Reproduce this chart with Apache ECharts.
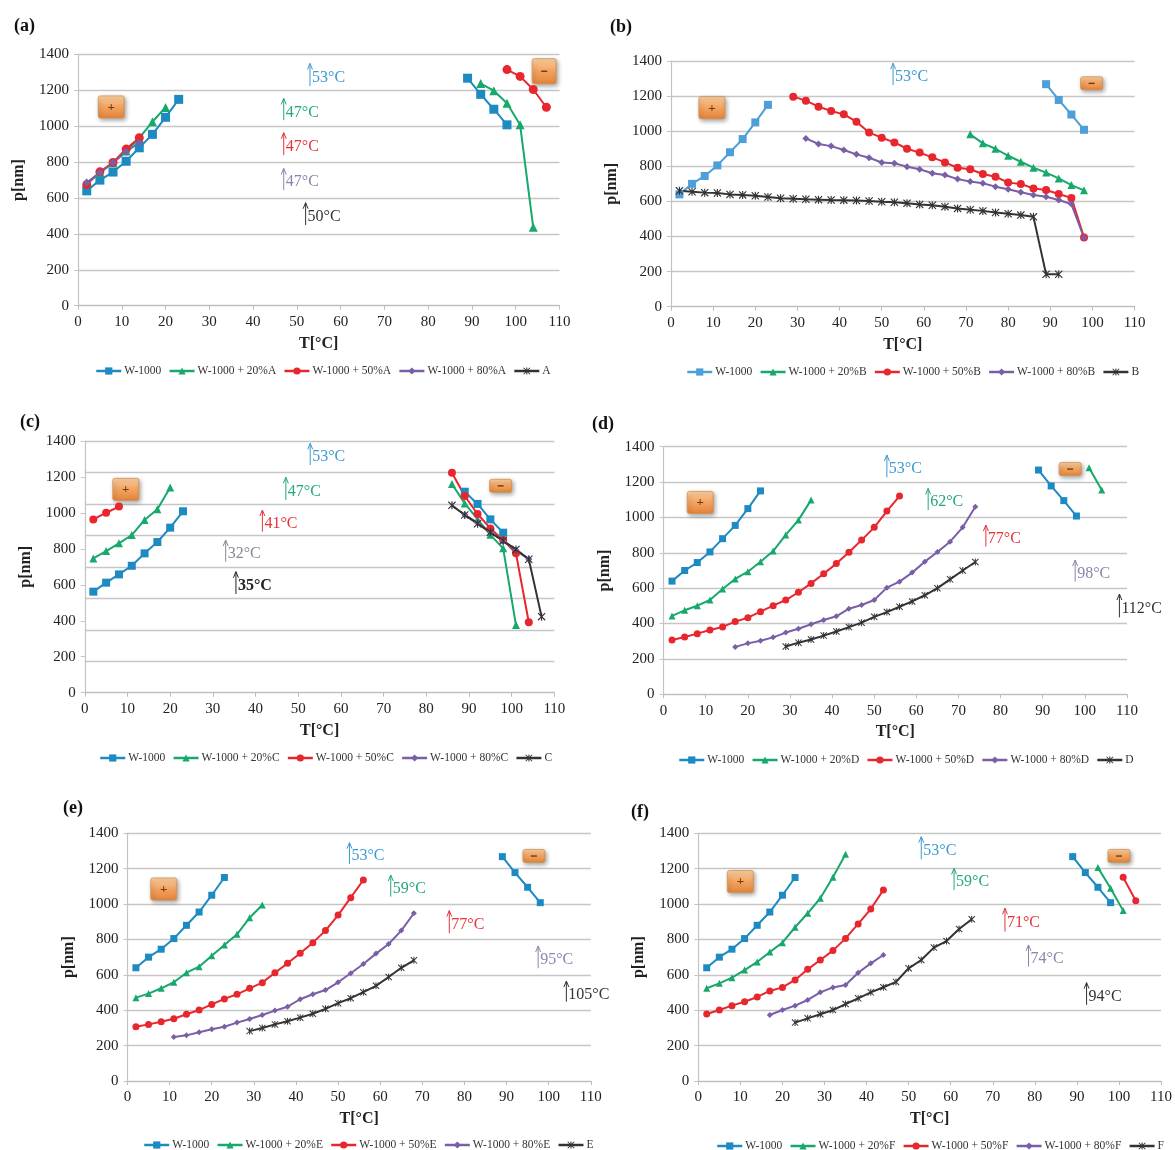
<!DOCTYPE html>
<html>
<head>
<meta charset="utf-8">
<script src="https://cdn.jsdelivr.net/npm/echarts@6/dist/echarts.min.js"></script>
<style>
  html, body { margin: 0; padding: 0; background: #fff; }
  #chart { width: 1175px; height: 1150px; }
</style>
</head>
<body>
<div id="chart"></div>
<script>
// Pore size p [nm] versus temperature T [°C]; each panel compares W-1000 with its blends.
// Heating branches and cooling branches are kept apart so they draw as separate segments.

const xTicks = [0, 110, 10];          // min, max, step of the T axis
const yTicks = [0, 1400, 200];        // min, max, step of the p axis
const panelLetters = ['A', 'B', 'C', 'D', 'E', 'F'];
const panelTitles = ['(a)', '(b)', '(c)', '(d)', '(e)', '(f)'];

// W-1000 reference (panels a, b, d, e, f)
const w1000Heat = [[2,640],[5,700],[8,745],[11,805],[14,880],[17,955],[20,1050],[23,1150]];
const w1000Cool = [[89,1268],[92,1178],[95,1095],[98,1008]];

// (a)
const a20Heat = [[2,680],[5,742],[8,797],[11,862],[14,935],[17,1025],[20,1105]];
const a20Cool = [[92,1238],[95,1198],[98,1128],[101,1008],[104,437]];
const a50Heat = [[2,675],[5,746],[8,798],[11,873],[14,936]];
const a50Cool = [[98,1316],[101,1278],[104,1205],[107,1106]];
const a80Heat = [[2,686],[5,741],[8,797],[11,858],[14,910]];
const aPure = [];

// (b)
const b20Cool = [[71,982],[74,931],[77,900],[80,860],[83,826],[86,792],[89,764],[92,731],[95,693],[98,663]];
const b50Cool = [[29,1197],[32,1174],[35,1140],[38,1115],[41,1096],[44,1054],[47,992],[50,963],[53,936],[56,900],[59,878],[62,851],[65,822],[68,792],[71,783],[74,756],[77,741],[80,707],[83,699],[86,674],[89,665],[92,642],[95,620],[98,395]];
const b80Cool = [[32,959],[35,927],[38,915],[41,893],[44,868],[47,849],[50,822],[53,817],[56,798],[59,783],[62,760],[65,750],[68,727],[71,714],[74,703],[77,684],[80,669],[83,652],[86,636],[89,627],[92,608],[95,585],[98,393]];
const bPure = [[2,660],[5,655],[8,650],[11,648],[14,640],[17,637],[20,632],[23,625],[26,618],[29,615],[32,612],[35,610],[38,608],[41,607],[44,605],[47,602],[50,598],[53,595],[56,590],[59,583],[62,578],[65,570],[68,560],[71,552],[74,546],[77,537],[80,530],[83,522],[86,512],[89,185],[92,185]];

// (c)
const cW1000Heat = [[2,562],[5,612],[8,658],[11,706],[14,775],[17,838],[20,918],[23,1009]];
const cW1000Cool = [[89,1118],[92,1050],[95,964],[98,890]];
const c20Heat = [[2,747],[5,788],[8,831],[11,877],[14,961],[17,1020],[20,1142]];
const c20Cool = [[86,1161],[89,1053],[92,965],[95,878],[98,803],[101,376]];
const c50Heat = [[2,964],[5,1001],[8,1035]];
const c50Cool = [[86,1223],[89,1094],[92,994],[95,914],[98,849],[101,775],[104,392]];
const c80Cool = [[89,990],[92,945],[95,893],[98,843],[101,792],[104,742]];
const cPure = [[86,1042],[89,988],[92,940],[95,892],[98,845],[101,797],[104,742],[107,423]];

// (d)
const d20Heat = [[2,443],[5,475],[8,501],[11,533],[14,595],[17,652],[20,693],[23,750],[26,810],[29,901],[32,985],[35,1098]];
const d20Cool = [[101,1281],[104,1155]];
const d50Heat = [[2,307],[5,324],[8,343],[11,364],[14,381],[17,411],[20,433],[23,467],[26,501],[29,533],[32,577],[35,627],[38,682],[41,739],[44,803],[47,872],[50,944],[53,1036],[56,1121]];
const d80Heat = [[17,268],[20,288],[23,303],[26,322],[29,349],[32,371],[35,396],[38,420],[41,441],[44,484],[47,505],[50,533],[53,603],[56,637],[59,688],[62,750],[65,805],[68,863],[71,944],[74,1061]];
const dPure = [[29,270],[32,292],[35,310],[38,332],[41,355],[44,380],[47,405],[50,438],[53,465],[56,495],[59,525],[62,560],[65,600],[68,650],[71,700],[74,748]];

// (e)
const e20Heat = [[2,471],[5,494],[8,524],[11,558],[14,612],[17,646],[20,708],[23,769],[26,829],[29,923],[32,995]];
const e50Heat = [[2,307],[5,320],[8,335],[11,352],[14,377],[17,401],[20,433],[23,464],[26,490],[29,524],[32,556],[35,612],[38,665],[41,722],[44,782],[47,850],[50,938],[53,1036],[56,1136]];
const e80Heat = [[11,249],[14,258],[17,275],[20,292],[23,307],[26,330],[29,350],[32,373],[35,398],[38,420],[41,462],[44,490],[47,514],[50,558],[53,609],[56,661],[59,720],[62,774],[65,850],[68,948]];
const ePure = [[29,282],[32,300],[35,320],[38,338],[41,358],[44,380],[47,408],[50,440],[53,468],[56,502],[59,538],[62,588],[65,640],[68,682]];

// (f)
const f20Heat = [[2,524],[5,552],[8,584],[11,627],[14,673],[17,729],[20,782],[23,869],[26,948],[29,1033],[32,1151],[35,1281]];
const f20Cool = [[95,1206],[98,1089],[101,963]];
const f50Heat = [[2,379],[5,401],[8,426],[11,448],[14,475],[17,509],[20,529],[23,571],[26,631],[29,684],[32,737],[35,806],[38,888],[41,972],[44,1080]];
const f50Cool = [[101,1151],[104,1019]];
const f80Heat = [[17,373],[20,401],[23,426],[26,458],[29,501],[32,529],[35,543],[38,612],[41,665],[44,712]];
const fPure = [[23,330],[26,354],[29,377],[32,401],[35,435],[38,467],[41,501],[44,530],[47,560],[50,637],[53,684],[56,754],[59,791],[62,859],[65,914]];

// Arrow notes: [T, arrow foot p, arrow tip p, text, colour key]
const aNotes = [[53,1224,1350,'53°C','blue'],[47,1034,1155,'47°C','green'],[47,839,964,'47°C','red'],[47,644,765,'47°C','purple'],[52,449,574,'50°C','black']];
const bNotes = [[52.7,1263,1387,'53°C','blue']];
const cNotes = [[52.8,1266,1387,'53°C','blue'],[47.1,1072,1198,'47°C','green'],[41.6,896,1016,'41°C','red'],[33,729,849,'32°C','gray'],[35.4,549,673,'35°C','blackBold']];
const dNotes = [[53,1227,1353,'53°C','blue'],[62.8,1042,1164,'62°C','green'],[76.5,835,957,'77°C','red'],[97.7,637,759,'98°C','purple'],[108.2,435,567,'112°C','black']];
const eNotes = [[52.7,1227,1347,'53°C','blue'],[62.5,1042,1164,'59°C','green'],[76.4,835,963,'77°C','red'],[97.5,637,763,'95°C','purple'],[104.2,448,565,'105°C','black']];
const fNotes = [[53,1253,1381,'53°C','blue'],[60.8,1080,1202,'59°C','green'],[72.9,844,976,'71°C','red'],[78.5,646,769,'74°C','purple'],[92.3,430,556,'94°C','black']];

// Heating (+) and cooling (−) badges: [T, p, sign]
const aSigns = [[7.6,1108,'+'],[106.5,1307,'−']];
const bSigns = [[9.7,1134,'+'],[99.8,1273,'−']];
const cSigns = [[9.6,1131,'+'],[97.4,1151,'−']];
const dSigns = [[8.7,1085,'+'],[96.5,1274,'−']];
const eSigns = [[8.6,1085,'+'],[96.5,1272,'−']];
const fSigns = [[10,1127,'+'],[100,1272,'−']];

const FONT = '"Liberation Serif", "Times New Roman", serif';
const COLORS = { blue: '#1d8ac2', blueLight: '#4c9fd7', green: '#17a86c', red: '#e8262d', purple: '#7a5ea6', black: '#333333' };
const NOTE_COLORS = { blue: '#3b9ad2', green: '#23a878', red: '#e5333c', purple: '#8e83ad', gray: '#8a8597', black: '#333333', blackBold: '#222222' };
const STAR = 'path://M4.3,0H5.7V10H4.3Z M0,1L1,0L10,9L9,10Z M9,0L10,1L1,10L0,9Z';

const GRIDS = [
  { left: 78,    top: 54.5,  width: 481.5, height: 251.2 },
  { left: 671,   top: 61,    width: 463.6, height: 245.7 },
  { left: 84.8,  top: 441,   width: 469.6, height: 251.7 },
  { left: 663.6, top: 446.7, width: 463.4, height: 247.6 },
  { left: 127.5, top: 833.3, width: 463.3, height: 247.7 },
  { left: 698.3, top: 833.3, width: 463.2, height: 247.7 }
];
const TITLE_POS = [[9,12],[605,13],[15,408],[587,410],[58,794],[626,798]];
const LEGEND_POS = [[90,360],[681,361],[94,747],[673,749],[138,1134],[711,1135]];

const panels = [
  { heat: [w1000Heat, a20Heat, a50Heat, a80Heat, aPure], cool: [w1000Cool, a20Cool, a50Cool, null, null], notes: aNotes, signs: aSigns, blue: COLORS.blue, mark: 9, tallMinus: true },
  { heat: [w1000Heat, null, null, null, bPure], cool: [w1000Cool, b20Cool, b50Cool, b80Cool, null], notes: bNotes, signs: bSigns, blue: COLORS.blueLight, mark: 8 },
  { heat: [cW1000Heat, c20Heat, c50Heat, null, null], cool: [cW1000Cool, c20Cool, c50Cool, c80Cool, cPure], notes: cNotes, signs: cSigns, blue: COLORS.blue, mark: 8, oddGrid: true },
  { heat: [w1000Heat, d20Heat, d50Heat, d80Heat, dPure], cool: [w1000Cool, d20Cool, null, null, null], notes: dNotes, signs: dSigns, blue: COLORS.blue, mark: 7 },
  { heat: [w1000Heat, e20Heat, e50Heat, e80Heat, ePure], cool: [w1000Cool, null, null, null, null], notes: eNotes, signs: eSigns, blue: COLORS.blue, mark: 7 },
  { heat: [w1000Heat, f20Heat, f50Heat, f80Heat, fPure], cool: [w1000Cool, f20Cool, f50Cool, null, null], notes: fNotes, signs: fSigns, blue: COLORS.blue, mark: 7 }
];

function seriesNames(letter) {
  return ['W-1000', 'W-1000 + 20%' + letter, 'W-1000 + 50%' + letter, 'W-1000 + 80%' + letter, letter];
}

function markerFor(k, base) {
  return [
    { symbol: 'rect', size: base },
    { symbol: 'triangle', size: base },
    { symbol: 'circle', size: base },
    { symbol: 'diamond', size: base - 1 },
    { symbol: STAR, size: base }
  ][k];
}

function lineSeries(gi, name, data, color, marker) {
  return {
    type: 'line', name: name, xAxisIndex: gi, yAxisIndex: gi,
    data: data, symbol: marker.symbol, symbolSize: marker.size,
    showAllSymbol: true, animation: false,
    lineStyle: { color: color, width: 2 },
    itemStyle: { color: color },
    emphasis: { disabled: true }
  };
}

function noteSeries(gi, notes) {
  return {
    type: 'custom', xAxisIndex: gi, yAxisIndex: gi, clip: false, silent: true, z: 4,
    animation: false,
    data: notes.map(n => [n[0], n[1], n[2]]),
    renderItem(params, api) {
      const n = notes[params.dataIndex];
      const foot = api.coord([api.value(0), api.value(1)]);
      const tip = api.coord([api.value(0), api.value(2)]);
      const col = NOTE_COLORS[n[4]];
      const bold = n[4] === 'blackBold';
      return {
        type: 'group',
        children: [
          { type: 'line', shape: { x1: foot[0], y1: foot[1], x2: tip[0], y2: tip[1] }, style: { stroke: col, lineWidth: 1 } },
          { type: 'polyline', shape: { points: [[tip[0] - 2.5, tip[1] + 6], [tip[0], tip[1]], [tip[0] + 2.5, tip[1] + 6]] }, style: { stroke: col, lineWidth: 1, fill: null } },
          { type: 'text', x: tip[0] + 2, y: (foot[1] + tip[1]) / 2 + 3,
            style: { text: n[3], fill: col, font: (bold ? 'bold ' : '') + '16px ' + FONT, align: 'left', verticalAlign: 'middle' } }
        ]
      };
    }
  };
}

function signSeries(gi, signs, tallMinus) {
  return {
    type: 'custom', xAxisIndex: gi, yAxisIndex: gi, clip: false, silent: true, z: 1,
    animation: false,
    data: signs.map(s => [s[0], s[1]]),
    renderItem(params, api) {
      const s = signs[params.dataIndex];
      const c = api.coord([api.value(0), api.value(1)]);
      const plus = s[2] === '+';
      const w = plus ? 26 : (tallMinus ? 24 : 22);
      const h = plus ? 22 : (tallMinus ? 25 : 13);
      const grad = new echarts.graphic.LinearGradient(0, 0, 0, 1, [
        { offset: 0, color: '#fbd3a8' }, { offset: 0.45, color: '#f4a663' }, { offset: 1, color: '#e2843a' }
      ]);
      const kids = [
        { type: 'rect', shape: { x: c[0] - w / 2, y: c[1] - h / 2, width: w, height: h, r: 2 },
          style: { fill: grad, stroke: '#d3904f', lineWidth: 0.8, shadowBlur: 4, shadowColor: 'rgba(0,0,0,0.35)', shadowOffsetX: 1.5, shadowOffsetY: 2 } }
      ];
      if (plus) {
        kids.push({ type: 'text', x: c[0], y: c[1] + 0.5, style: { text: '+', fill: '#6b3d12', font: 'bold 13px ' + FONT, align: 'center', verticalAlign: 'middle' } });
      } else {
        kids.push({ type: 'rect', shape: { x: c[0] - 3, y: c[1] - 0.6, width: 6, height: 1.4 }, style: { fill: '#6b3d12' } });
      }
      return { type: 'group', children: kids };
    }
  };
}

const plainNumber = v => String(v);

const option = {
  animation: false,
  backgroundColor: '#ffffff',
  textStyle: { fontFamily: FONT },
  title: panelTitles.map((t, i) => ({
    text: t, left: TITLE_POS[i][0], top: TITLE_POS[i][1],
    textStyle: { fontFamily: FONT, fontWeight: 'bold', fontSize: 18, color: '#111' }
  })),
  grid: GRIDS.map(g => Object.assign({ containLabel: false }, g)),
  xAxis: GRIDS.map((g, i) => ({
    type: 'value', gridIndex: i, min: xTicks[0], max: xTicks[1], interval: xTicks[2],
    name: 'T[°C]', nameLocation: 'middle', nameGap: 30,
    nameTextStyle: { fontFamily: FONT, fontWeight: 'bold', fontSize: 16, color: '#222' },
    axisLine: { show: true, lineStyle: { color: '#bdbdbd', width: 1.2 } },
    axisTick: { show: true, length: 4, lineStyle: { color: '#bdbdbd' } },
    axisLabel: { fontFamily: FONT, fontSize: 15, color: '#222', margin: 9, formatter: plainNumber },
    splitLine: { show: false }
  })),
  yAxis: GRIDS.map((g, i) => ({
    type: 'value', gridIndex: i, min: yTicks[0], max: yTicks[1], interval: yTicks[2],
    name: 'p[nm]', nameLocation: 'middle', nameGap: 51, nameRotate: 90,
    nameTextStyle: { fontFamily: FONT, fontWeight: 'bold', fontSize: 16, color: '#222' },
    axisLine: { show: true, lineStyle: { color: '#c4c4c4', width: 1.2 } },
    axisTick: { show: true, length: 4, lineStyle: { color: '#c4c4c4' } },
    axisLabel: { fontFamily: FONT, fontSize: 15, color: '#222', margin: 9, formatter: plainNumber },
    splitLine: { show: !panels[i].oddGrid, lineStyle: { color: '#c6c6c6', width: 1.3 } }
  })).concat([{
    // panel (c) carries its own grid rule every 175 nm
    type: 'value', gridIndex: 2, min: 0, max: 1400, interval: 175,
    axisLine: { show: false }, axisTick: { show: false }, axisLabel: { show: false },
    splitLine: { show: true, lineStyle: { color: '#c6c6c6', width: 1.3 } }
  }]),
  legend: panels.map((p, i) => {
    const names = seriesNames(panelLetters[i]);
    return {
      left: LEGEND_POS[i][0], top: LEGEND_POS[i][1],
      itemWidth: 25, itemHeight: 9, itemGap: 7, selectedMode: false,
      textStyle: { fontFamily: FONT, fontSize: 11.5, color: '#333', padding: [0, 0, 0, -2] },
      data: names.map((n, k) => {
        const col = k === 0 ? p.blue : [null, COLORS.green, COLORS.red, COLORS.purple, COLORS.black][k];
        return { name: n, itemStyle: { color: col }, lineStyle: { color: col, width: 2.5 } };
      })
    };
  }),
  series: []
};

panels.forEach((p, gi) => {
  const names = seriesNames(panelLetters[gi]);
  const cols = [p.blue, COLORS.green, COLORS.red, COLORS.purple, COLORS.black];
  option.series.push(signSeries(gi, p.signs, p.tallMinus));
  for (let k = 0; k < 5; k++) {
    const mk = markerFor(k, p.mark);
    if (p.heat[k]) option.series.push(lineSeries(gi, names[k], p.heat[k], cols[k], mk));
    if (p.cool[k]) option.series.push(lineSeries(gi, names[k], p.cool[k], cols[k], mk));
  }
  option.series.push(noteSeries(gi, p.notes));
});

const chart = echarts.init(document.getElementById('chart'), null, { renderer: 'canvas' });
chart.setOption(option);
</script>
</body>
</html>
